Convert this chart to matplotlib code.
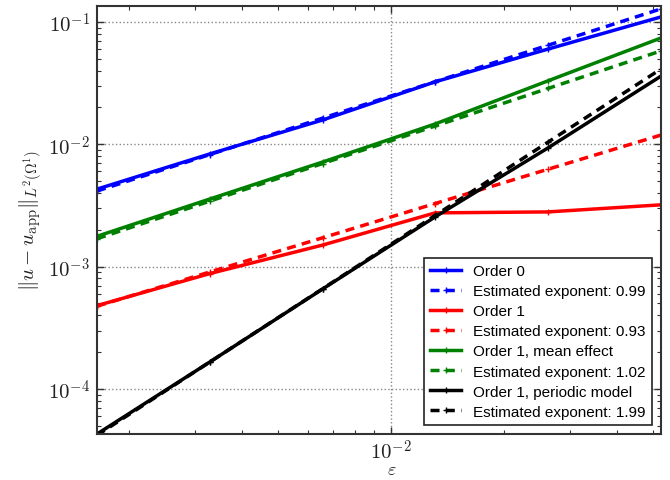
import matplotlib
matplotlib.use("Agg")
import matplotlib.pyplot as plt
from matplotlib.ticker import FuncFormatter, LogLocator, NullFormatter
import numpy as np

plt.rcParams['mathtext.fontset'] = 'cm'
plt.rcParams['font.family'] = ['Liberation Sans', 'DejaVu Sans']

eps = [0.00164, 0.00328, 0.00656, 0.0131, 0.0262, 0.0525]

order0 = [4.30e-3, 8.34e-3, 1.58e-2, 3.24e-2, 6.0e-2, 0.110]
order0_fit = [4.15e-3, 8.24e-3, 1.636e-2, 3.25e-2, 6.45e-2, 0.128]

order1 = [4.8e-4, 8.77e-4, 1.50e-3, 2.75e-3, 2.8e-3, 3.2e-3]
order1_fit = [4.75e-4, 9.04e-4, 1.72e-3, 3.28e-3, 6.25e-3, 1.19e-2]

order1_mean = [1.77e-3, 3.57e-3, 7.16e-3, 1.466e-2, 3.3e-2, 7.4e-2]
order1_mean_fit = [1.69e-3, 3.43e-3, 6.96e-3, 1.41e-2, 2.86e-2, 5.8e-2]

order1_per = [4.28e-5, 1.66e-4, 6.56e-4, 2.55e-3, 9.33e-3, 3.61e-2]
order1_per_fit = [4.18e-5, 1.66e-4, 6.59e-4, 2.62e-3, 1.04e-2, 4.13e-2]

labels = ["Order 0", "Estimated exponent: 0.99",
          "Order 1", "Estimated exponent: 0.93",
          "Order 1, mean effect", "Estimated exponent: 1.02",
          "Order 1, periodic model", "Estimated exponent: 1.99"]

series = [
    (order0, order0_fit, 'b'),
    (order1, order1_fit, 'r'),
    (order1_mean, order1_mean_fit, 'g'),
    (order1_per, order1_per_fit, 'k'),
]

fig = plt.figure(figsize=(6.7, 4.81), dpi=100)
ax = fig.add_axes([0.1448, 0.0956, 0.8418, 0.8898])

i = 0
for sol, fit, c in series:
    ax.plot(eps, sol, color=c, lw=2.5, ls='-', marker='+', ms=5, mew=1,
            label=labels[i])
    ax.plot(eps, fit, color=c, lw=2.5, ls=(0, (2.6, 1.8)), marker='+', ms=5,
            mew=1, label=labels[i + 1])
    i += 2

ax.set_xscale('log')
ax.set_yscale('log')
ax.set_xlim(eps[0], eps[-1])
ax.set_ylim(4.28e-5, 0.135)

fmt = FuncFormatter(lambda v, p: r'$10^{%d}$' % int(round(np.log10(v))))
ax.xaxis.set_major_locator(LogLocator(base=10))
ax.yaxis.set_major_locator(LogLocator(base=10))
ax.xaxis.set_major_formatter(fmt)
ax.yaxis.set_major_formatter(fmt)
ax.xaxis.set_minor_formatter(NullFormatter())
ax.yaxis.set_minor_formatter(NullFormatter())

ax.grid(True, which='major', ls=':', color='#888888', lw=1)
ax.tick_params(which='both', direction='in', top=True, right=True,
               labelsize=15, colors='#333333', labelcolor='#222222')
ax.tick_params(which='major', length=5, width=1, pad=5)
ax.tick_params(axis='x', which='major', pad=3)
ax.tick_params(which='minor', length=3, width=0.8)
for s in ax.spines.values():
    s.set_color('#333333')
    s.set_linewidth(1.5)

ax.set_xlabel(r'$\varepsilon$', fontsize=13, color='#222222')
ax.xaxis.label.set_va('center')
ax.xaxis.set_label_coords(0.522, -0.084)
ax.set_ylabel(r'$\|u - u_{\rm app}\|_{L^2(\Omega^1)}$', fontsize=15,
              color='#222222', labelpad=3)

leg = ax.legend(loc='lower right', fontsize=11, frameon=True, fancybox=False,
                edgecolor='#222222', framealpha=1, handlelength=2.0,
                borderaxespad=0.6, labelspacing=0.4, borderpad=0.4)
leg.get_frame().set_linewidth(1.2)

fig.savefig('out.png', dpi=100)
